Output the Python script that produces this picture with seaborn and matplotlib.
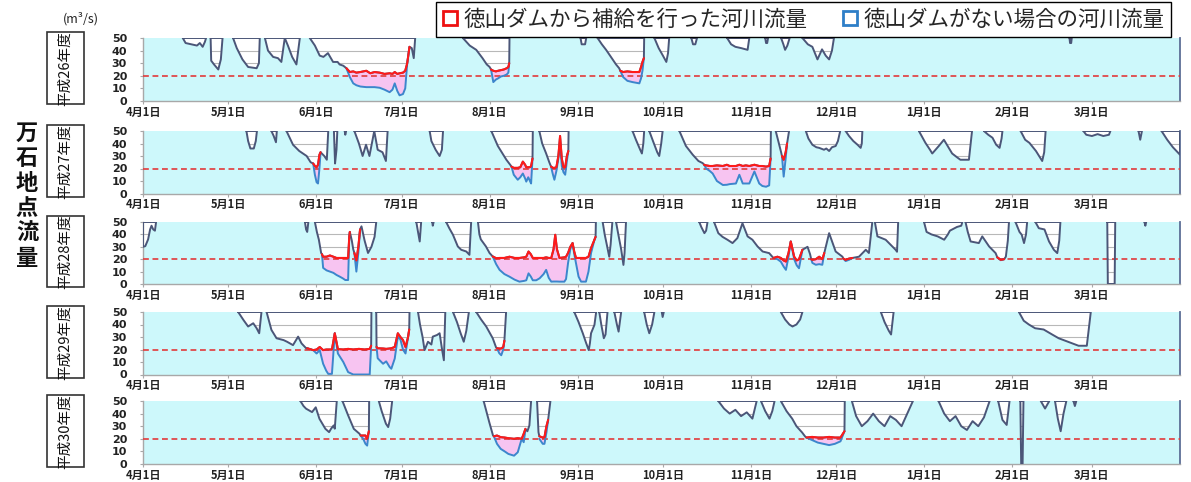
import numpy as np
import matplotlib
matplotlib.use('Agg')
import matplotlib.pyplot as plt
import seaborn as sns
from matplotlib.path import Path
from matplotlib.patches import PathPatch, Rectangle
from matplotlib.lines import Line2D

# ---------------- data (day 0 = 4月1日, values in m3/s, dips below the 50 clip) -------------
month_days = [0, 30, 61, 91, 122, 153, 183, 214, 244, 275, 306, 334]
month_labels = ['4月1日', '5月1日', '6月1日', '7月1日', '8月1日', '9月1日', '10月1日',
                '11月1日', '12月1日', '1月1日', '2月1日', '3月1日']
year_labels = ['平成26年度', '平成27年度', '平成28年度', '平成29年度', '平成30年度']
legend_labels = ['徳山ダムから補給を行った河川流量', '徳山ダムがない場合の河川流量']
target_flow = 20

# 平成26年度: flow with dam (outline), supplement periods (day, with dam, without dam)
dips_h26 = [
    [(14, 50), (15, 46), (17, 45), (19, 44), (20, 46), (21, 43), (21.8, 47), (22.2, 50)],
    [(23.8, 50), (24, 32), (25, 29), (26.5, 25), (27.4, 33), (28, 50)],
    [(31.7, 50), (33, 42), (35, 33), (37, 27), (40, 26), (40.8, 30), (41.1, 50)],
    [(42.9, 50), (44, 40), (45.8, 35), (47.5, 34), (48.7, 31), (49.9, 50), (51, 44), (52.5, 35), (54, 29), (55.2, 50)],
    [(58.7, 50), (60.5, 44), (62.2, 36), (63.5, 35), (65.1, 38), (66.9, 31), (68.5, 31), (69.2, 29), (70.5, 28),
     (71.6, 26), (93.8, 43), (94.6, 42), (95.3, 34), (95.8, 50)],
    [(112.6, 50), (115, 44), (117.3, 40.6), (119.5, 34), (121, 29), (122, 27), (129, 50)],
    [(154, 50), (154.4, 45), (155.6, 45), (156, 50)],
    [(160, 50), (161.5, 45), (163, 40.6), (165, 34), (166.5, 29), (167.6, 26), (176.4, 50)],
    [(180, 50), (181.5, 42), (183, 36), (184.2, 31), (184.8, 38), (185.2, 50)],
    [(193, 50), (193.6, 45), (194.4, 45), (195, 50)],
    [(205.6, 50), (207, 45), (208.5, 43), (210.5, 42), (212.8, 40.6), (213.4, 50)],
    [(219, 50), (219.3, 46), (219.7, 46), (220, 50)],
    [(224.6, 50), (225.4, 45), (226, 40.6), (226.8, 44), (227.6, 50)],
    [(232.1, 50), (234, 45), (235.6, 43), (237.4, 33), (239, 41), (240.3, 36), (241.5, 33), (242.5, 40), (243.2, 50)],
    [(326.1, 50), (326.3, 46), (326.7, 46), (326.9, 50)],
]
sups_h26 = [
    [(71.6, 26, 26), (72.8, 23, 19), (74, 23.5, 14), (75.1, 22.5, 12.5), (76.5, 23, 11.5), (78.6, 24, 11),
     (80, 22, 11), (81.5, 23, 11), (83.3, 22.5, 10.5), (85, 21.5, 9), (86.8, 22, 7), (87.8, 21.5, 9),
     (88.6, 23, 14), (89.5, 21.5, 8), (90.3, 22, 4.5), (91.5, 22.5, 5.5), (92.3, 24, 10), (93, 30, 30),
     (93.8, 43, 43)],
    [(122.5, 25, 25), (123.3, 24, 15), (124.2, 23.5, 17), (125, 24, 18), (126, 24.5, 19.5), (127, 25, 20),
     (128, 26, 21), (128.6, 27, 22.5), (128.9, 30, 30)],
    [(168, 24, 24), (169, 23, 19), (170.5, 23.5, 16), (172.3, 23, 15), (173.5, 23, 14.5), (174.7, 23, 14),
     (175.3, 27, 18), (175.8, 31, 24), (176.3, 34, 34)],
]

# 平成27年度
dips_h27 = [
    [(36.4, 50), (37, 42), (37.8, 36), (39, 36), (39.7, 42), (40.1, 50)],
    [(45.2, 50), (46, 46), (46.8, 41), (47.1, 50)],
    [(50.5, 50), (52.8, 39), (55, 34), (57.6, 30), (59, 25), (59.9, 24), (62.5, 33), (63.8, 30), (64.7, 27), (65.2, 50)],
    [(67.2, 50), (67.6, 24), (68.1, 35), (68.4, 50)],
    [(71, 50), (71.2, 47), (71.5, 50)],
    [(74.4, 50), (76, 40), (77.3, 30), (78.5, 39), (79.7, 30), (81.4, 50), (82.6, 35), (84.3, 33), (85.5, 26), (86.1, 50)],
    [(100.9, 50), (101.5, 42), (103, 35), (104.4, 30), (105.2, 35), (105.6, 50)],
    [(122.6, 50), (124.9, 38), (127.9, 27), (129.4, 22.5), (129.7, 21.5), (137.2, 50)],
    [(139.5, 50), (140.5, 40), (141.9, 32), (143, 25), (143.6, 21.6), (149.8, 50)],
    [(172.3, 50), (173.5, 43), (175, 35), (175.6, 32), (176.1, 40), (176.4, 50)],
    [(178.2, 50), (179.5, 42), (181, 33), (181.7, 30), (182.4, 40), (182.9, 50)],
    [(188.8, 50), (191.1, 38), (193.5, 31), (195.5, 26), (197, 24.3), (197.5, 23), (221, 50)],
    [(222.7, 50), (223.6, 42), (224.6, 33), (224.9, 30), (226.7, 40), (227.4, 50)],
    [(233.3, 50), (234.2, 44), (235.6, 39), (237, 37), (238, 36.5), (239.7, 35), (240.5, 36), (241.5, 34),
     (242.5, 37), (243.8, 38), (244.6, 42), (245.4, 50)],
    [(247.3, 50), (248.5, 46), (250, 42), (251.5, 39), (252.6, 36.5), (253, 40), (253.2, 50)],
    [(273.1, 50), (275.4, 40.5), (277, 35), (277.8, 32), (280.1, 38), (281.9, 43), (284.8, 32), (286.5, 29),
     (287.7, 27), (290.7, 27), (291.8, 50)],
    [(296, 50), (297.5, 47), (299, 44.6), (300.3, 39), (301.5, 36.5), (302.2, 44), (302.5, 50)],
    [(308.9, 50), (310.5, 43), (312, 40.5), (314.3, 34), (316.5, 26), (317.2, 33), (317.7, 50)],
    [(331, 50), (332, 47), (334, 46), (336, 47.5), (338, 46), (340, 47), (340.5, 50)],
    [(350.4, 50), (351, 43), (351.6, 50)],
    [(358.5, 50), (360.5, 43), (362.5, 37), (365, 31), (365, 50)],
]
sups_h27 = [
    [(59.9, 24, 24), (60.5, 22, 15), (61.1, 21, 9), (61.6, 23, 8), (62.1, 31, 20), (62.5, 33, 33)],
    [(129.7, 21.5, 21.5), (130.5, 20.5, 15), (131.9, 20.5, 11), (132.8, 21, 13), (133.7, 25.5, 16), (134.5, 23, 12),
     (134.9, 21, 9.5), (135.6, 21, 13), (136.2, 21, 10), (136.6, 22, 8), (137.1, 28, 28)],
    [(143.6, 21.6, 21.6), (144.3, 20.5, 15), (144.8, 20.5, 11), (145.5, 21, 18), (146.2, 30, 28), (146.8, 46, 40),
     (147.4, 28, 22), (148, 21, 17), (148.6, 21, 15), (149.2, 30, 26), (149.7, 34, 34)],
    [(197.5, 23, 23), (198.2, 22.5, 20), (199.5, 22, 18), (200.5, 22, 16), (202, 22.5, 10), (204.1, 22, 6.8),
     (205.5, 23, 7), (206.5, 22, 7.5), (208.7, 22, 8), (209.9, 23, 15), (211.1, 22, 8), (212.2, 22.5, 8),
     (213.4, 22, 8), (215.2, 23, 17.6), (216.9, 22, 8), (218, 22, 6), (219.3, 21.5, 5.4), (220.4, 22, 6.5),
     (220.9, 28, 28)],
    [(224.9, 30, 30), (225.5, 27, 13.5), (226.2, 33, 28), (226.7, 40, 40)],
]

# 平成28年度
dips_h28 = [
    [(0, 50), (0, 30), (0.8, 30.5), (1.8, 36), (2.5, 44), (3, 47), (3.6, 44), (4.2, 43), (4.6, 50)],
    [(57, 50), (57.4, 44), (57.8, 42), (58.2, 50)],
    [(60.5, 50), (61.2, 42), (61.9, 35.7), (62.7, 25), (63, 24), (72.8, 42), (73.5, 35), (74, 28), (74.4, 25),
     (76.4, 44), (76.9, 46.5), (78, 35), (79.2, 25), (80.4, 30), (81.5, 38), (82.1, 50)],
    [(96.2, 50), (96.8, 42), (97.4, 34.3), (97.9, 50)],
    [(101.8, 50), (102, 47), (102.3, 50)],
    [(106.7, 50), (107.8, 45), (109.1, 39.7), (110.8, 30.3), (112, 27.6), (113.8, 26.2), (114.9, 23.5), (115.5, 50)],
    [(117.9, 50), (118.4, 40), (118.9, 36), (120.7, 30.3), (122, 24.9), (123.1, 22.2), (159.4, 50)],
    [(161.8, 50), (162.5, 40), (163.4, 30), (164.1, 22), (164.6, 32), (165.2, 50)],
    [(166.5, 50), (167.3, 40), (168.3, 28), (169.1, 15.4), (169.5, 25), (170, 50)],
    [(195.8, 50), (196.5, 46), (197.6, 41), (198.2, 43), (198.7, 50)],
    [(201, 50), (202.5, 41), (204, 38), (205.7, 35.7), (207.5, 33), (209.2, 37), (210.4, 45), (211, 49),
     (212.8, 38.4), (214.5, 35.7), (216.3, 30.3), (218.1, 26.2), (220.4, 24.9), (221.5, 22), (221.9, 21),
     (232.1, 27.6), (233.9, 30), (234.8, 24), (235.2, 20), (239.8, 25), (241.5, 41), (243.8, 26.2), (246.2, 22),
     (246.5, 20.5), (249.7, 21), (252, 22), (254.4, 27.6), (255.5, 25), (256.7, 50)],
    [(257.6, 50), (258.5, 38.4), (261.4, 35.7), (264.9, 27.6), (265.4, 26), (265.8, 50)],
    [(274.9, 50), (275.8, 42), (277.5, 40), (279.7, 38.4), (282, 35.7), (283.3, 40), (284, 43), (286.5, 46),
     (288, 47), (288.4, 50)],
    [(289.5, 50), (290.3, 42), (291.3, 34.3), (294.2, 33), (295.4, 38.4), (297.8, 30.3), (300.1, 24.9),
     (300.7, 21.5), (303.1, 20), (303.7, 22), (304.4, 35), (304.8, 50)],
    [(307.1, 50), (308.5, 42), (309.3, 39.7), (310.1, 33), (310.8, 40), (311.2, 50)],
    [(314.1, 50), (315.3, 45), (317.3, 44), (318.9, 34.3), (320.6, 27.6), (321.8, 24.9), (322.5, 35), (322.9, 50)],
    [(339.4, 50), (339.6, 0), (342, 0), (342.2, 50)],
    [(352.5, 50), (352.8, 47), (353.1, 50)],
]
sups_h28 = [
    [(63, 24, 24), (63.4, 22, 13), (64.6, 22, 11), (65.8, 23, 10), (67, 22, 9), (68.1, 21, 7.3), (69.2, 21, 6),
     (70.3, 21, 4.6), (71.2, 21, 3.2), (72.2, 21, 3.2), (72.6, 38, 38), (72.8, 42, 42)],
    [(74.4, 25, 25), (75.1, 19, 10), (75.8, 30, 25), (76.4, 44, 44)],
    [(123.1, 22.2, 22.2), (124.3, 20.8, 16), (125.5, 21, 11.4), (127.2, 21, 8), (129, 22, 5.9), (130.8, 21, 3.5),
     (132.5, 21, 1.9), (134.1, 21.5, 2.5), (134.9, 22, 3), (135.7, 26.2, 8.6), (136.5, 24, 6), (137.2, 21, 3),
     (138.4, 21, 3), (139.6, 21, 4.6), (141, 21, 8), (141.9, 21.5, 11.4), (142.8, 21, 5), (143.7, 21, 1.9),
     (144.5, 28, 2), (145.1, 39.7, 2), (145.7, 28, 2), (146.6, 21, 1.9), (148.3, 21.5, 1.9), (148.9, 22, 4),
     (149.6, 25, 16.8), (150.4, 30, 28), (151.2, 33, 33), (151.8, 26, 24), (152.4, 21, 16.8), (153.3, 21, 6),
     (154.2, 21, 1.9), (155.9, 21, 1.9), (156.8, 22, 10), (157.7, 29, 24.9), (158.9, 35.7, 35.7), (159.3, 38, 38)],
    [(221.9, 21, 21), (223.3, 22, 20), (224.5, 21, 18), (225.5, 19, 14), (226.3, 18.1, 11.4), (227.2, 25, 22),
     (228, 34.3, 34.3), (229.2, 22, 20), (230.1, 19, 15), (230.9, 20, 12.7), (232.1, 27.6, 27.6)],
    [(235.2, 20, 20), (235.6, 19.5, 17), (236.8, 20, 15.5), (238, 22, 16), (239.1, 20, 15.5), (239.8, 25, 25)],
    [(246.5, 20.5, 20.5), (247.3, 19.5, 18.5), (248.5, 20.5, 19.5), (249.7, 21, 21)],
    [(300.7, 21.5, 21.5), (301.9, 19.5, 19.2), (303.1, 20, 20)],
]

# 平成29年度
dips_h29 = [
    [(33.5, 50), (35.3, 43.8), (37, 38.4), (38.8, 41), (40, 37), (40.9, 33), (41.7, 50)],
    [(43.5, 50), (45.2, 35.7), (47, 29), (49.5, 27.5), (50.7, 26.2), (52.8, 23.5), (54.6, 30.3), (55.8, 24.9),
     (57.5, 20.8), (57.8, 21), (80.4, 50)],
    [(82.1, 50), (93.8, 50)],
    [(96.8, 50), (97.5, 40), (98.4, 30), (99.1, 19.5), (100.3, 26.2), (101.5, 24), (102, 30.3), (103.5, 31.6),
     (104.4, 33), (105.3, 19.5), (105.9, 11.4), (106.4, 50)],
    [(109.1, 50), (110.5, 42), (111.8, 33), (112.9, 26.2), (113.8, 35), (114.7, 50)],
    [(117.3, 50), (119, 44), (120.8, 38.4), (123.1, 29), (124.3, 21.5), (124.6, 21), (127.2, 27), (127.8, 50)],
    [(151.8, 50), (153.3, 42), (154.8, 33), (156, 25), (156.9, 19.5), (157.3, 25), (157.7, 33), (158.9, 39.7), (159.5, 50)],
    [(160.6, 50), (161.3, 40), (162.2, 29), (162.8, 32), (163.5, 50)],
    [(165.9, 50), (166.8, 40), (167.4, 34.3), (168.3, 50)],
    [(176.4, 50), (177.3, 40), (178.2, 33), (179.2, 40), (180, 50)],
    [(182.6, 50), (182.9, 46), (183.3, 50)],
    [(224.5, 50), (226, 44), (227.5, 40), (228.6, 38.4), (230, 40), (231.3, 44), (232.1, 50)],
    [(259.7, 50), (261, 42), (262.5, 35), (263.3, 32), (264.2, 50)],
    [(308.3, 50), (310, 43), (311.8, 40), (314, 37), (317, 36), (320, 32), (322.3, 29), (325.8, 26), (329.3, 23),
     (332.2, 23), (333.6, 50)],
]
sups_h29 = [
    [(57.8, 21, 21), (59.9, 19.5, 19.5), (61.1, 20, 16.8), (62.2, 22, 19.5), (63.4, 19.5, 8.6), (64.5, 20, 3),
     (65.2, 20, 0.5), (66.5, 20, 0.5), (67.5, 33, 33), (68.6, 20.3, 16.8), (70.5, 20, 10), (72.2, 20.5, 1.9),
     (74, 20, 0), (76, 20.5, 0), (78, 20, 0), (79.8, 20.5, 0), (80.3, 23, 23)],
    [(82.2, 22, 22), (82.6, 21, 13), (84.5, 20.8, 8.6), (85.6, 20.5, 10.5), (86.8, 20.8, 6), (87.4, 21, 4.6),
     (88.6, 22, 12.7), (89.7, 33, 30.3), (90.6, 30, 28), (91.5, 27.6, 20), (92.4, 22, 16.8), (93.3, 30, 30),
     (93.7, 36, 36)],
    [(124.6, 21, 21), (125.4, 20.8, 17), (126.1, 20.8, 15.4), (126.8, 22, 20), (127.2, 27, 27)],
]

# 平成30年度
dips_h30 = [
    [(55.4, 50), (56.5, 46), (57.4, 43.9), (59.5, 41.2), (60.8, 45), (62.1, 35.9), (64.2, 27.9), (65.5, 25.3),
     (66.2, 28), (67.1, 30.6), (67.5, 28), (68.2, 50)],
    [(70.2, 50), (72.2, 38.6), (74.2, 27.9), (76.2, 24), (76.6, 22.6), (79.6, 50)],
    [(83, 50), (84, 42), (85.5, 32), (86.3, 29.3), (87, 36), (87.7, 50)],
    [(119.9, 50), (121.9, 33), (123.2, 22.6), (123.5, 22), (134.6, 27.9), (135.3, 26), (136, 30.6), (136.6, 50)],
    [(138.7, 50), (139.2, 25.3), (139.5, 22), (142.6, 35), (143.4, 50)],
    [(202.5, 50), (204.5, 44), (206.5, 40), (208.5, 43), (210.5, 38), (212.5, 41), (214.5, 36), (216, 50)],
    [(217.5, 50), (219, 42), (220.5, 36), (221.5, 42), (222.3, 50)],
    [(224.5, 50), (226.5, 42), (228.5, 36), (230, 30), (232, 25), (233, 22), (233.5, 21), (247, 50)],
    [(249.5, 50), (251, 38), (253, 30), (255, 34), (257, 40), (259, 34), (261, 30), (263, 38), (265, 35), (267, 30),
     (269, 40), (271, 50)],
    [(280, 50), (282, 40), (284, 34), (286, 38), (288, 30), (290, 27), (292, 34), (294, 30), (296, 37), (298, 50)],
    [(301, 50), (302.5, 35), (304, 31), (305, 50)],
    [(308.8, 50), (309.1, 0), (309.6, 0), (309.9, 50)],
    [(316, 50), (317.5, 44), (319, 50)],
    [(321, 50), (322, 36), (323, 26), (324, 40), (325, 50)],
    [(327.5, 50), (328, 46), (328.5, 50)],
]
sups_h30 = [
    [(76.6, 22.6, 22.6), (77.5, 22.6, 20), (78.3, 22.6, 16), (78.9, 20, 14.6), (79.5, 26, 26)],
    [(123.5, 22, 22), (124.6, 22.6, 16), (125.9, 21.3, 12), (127.3, 21, 10), (128.6, 20.5, 8), (130.6, 20, 6.6),
     (131.9, 20.5, 9.3), (133.3, 20, 20), (134, 24, 17.3), (134.6, 27.9, 27)],
    [(139.5, 22, 20), (140.7, 21, 16), (141.3, 21.3, 16), (142, 30, 25), (142.6, 35, 35)],
    [(233.5, 21, 21), (235.5, 21.5, 19), (237.5, 21, 17), (239.5, 21, 16), (241.5, 21.5, 15), (243.5, 21, 16),
     (245.5, 21, 18), (246.9, 26, 26)],
]

all_dips = [dips_h26, dips_h27, dips_h28, dips_h29, dips_h30]
all_sups = [sups_h26, sups_h27, sups_h28, sups_h29, sups_h30]

# ---------------- style ----------------
sns.set_theme(style='white')
plt.rcParams['font.family'] = ['Noto Sans CJK JP', 'DejaVu Sans']

W, H = 1191, 482
CYAN = '#cdf8fb'
PINK = '#f7c4f1'
DARK = '#4b5678'
BLUE = '#3c86cc'
RED = '#ff1a1a'
GRID = '#b8b8b8'
AXC = '#a8a8a8'

fig = plt.figure(figsize=(W / 100, H / 100), dpi=100)
panel_px = [(38, 101), (131, 193.5), (222, 284), (312, 374.5), (401, 464)]


def merge(dip, sups):
    pts = list(dip)
    for s in sups:
        d0, d1 = s[0][0], s[-1][0]
        if pts[0][0] <= d0 and d1 <= pts[-1][0]:
            before = [p for p in pts if p[0] < d0]
            after = [p for p in pts if p[0] > d1]
            pts = before + [(d, r) for d, r, b in s] + after
    return pts


for i, (top, bot) in enumerate(panel_px):
    ax = fig.add_axes([143 / W, 1 - bot / H, (1180 - 143) / W, (bot - top) / H])
    ax.set_facecolor(CYAN)
    dips, sups = all_dips[i], all_sups[i]
    polys = [merge(d, sups) for d in dips]
    paths = [Path(np.array(p + [p[0]], dtype=float), closed=True) for p in polys]
    patch = PathPatch(Path.make_compound_path(*paths), facecolor='white', edgecolor='none', zorder=1)
    ax.add_patch(patch)
    gl = ax.hlines([10, 20, 30, 40], 0, 365, colors=GRID, lw=0.8, zorder=1.5)
    gl.set_clip_path(patch)
    for s in sups:
        a = np.array(s, dtype=float)
        ax.fill_between(a[:, 0], a[:, 2], a[:, 1], color=PINK, lw=0, zorder=2)
    ax.axhline(target_flow, color='#e23a3a', lw=1.2, ls=(0, (3.5, 2.2)), zorder=3)
    for s in sups:
        a = np.array(s, dtype=float)
        sns.lineplot(x=a[:, 0], y=a[:, 2], sort=False, estimator=None, color=BLUE, lw=1.4, ax=ax, zorder=4)
    for p in polys:
        a = np.array(p + [p[0]], dtype=float)
        sns.lineplot(x=a[:, 0], y=a[:, 1], sort=False, estimator=None, color=DARK, lw=1.4, ax=ax, zorder=4.5)
    for s in sups:
        a = np.array(s, dtype=float)
        sns.lineplot(x=a[:, 0], y=a[:, 1], sort=False, estimator=None, color=RED, lw=1.5, ax=ax, zorder=5)

    ax.set_xlim(0, 365)
    ax.set_ylim(0, 50)
    ax.set_xticks(month_days)
    ax.set_xticklabels(month_labels)
    ax.set_yticks([0, 10, 20, 30, 40, 50])
    ax.set_xlabel('')
    ax.set_ylabel('')
    ax.tick_params(axis='both', which='both', left=True, bottom=True, direction='out',
                   length=2.5, width=0.8, color=AXC, labelsize=8, labelcolor='#222222')
    ax.tick_params(axis='y', pad=9)
    ax.tick_params(axis='x', pad=1)
    for lab in ax.get_xticklabels():
        lab.set_fontweight('bold')
    for lab in ax.get_yticklabels():
        lab.set_fontweight('bold')
        lab.set_fontfamily('DejaVu Sans')
        lab.set_fontsize(8)
    ax.spines['top'].set_visible(False)
    ax.spines['left'].set_color(AXC)
    ax.spines['bottom'].set_color(AXC)
    ax.spines['right'].set_color('#5d6e96')
    ax.spines['left'].set_linewidth(1.0)
    ax.spines['bottom'].set_linewidth(1.0)
    ax.spines['right'].set_linewidth(1.3)

    # year label box
    fig.add_artist(Rectangle((47 / W, 1 - (bot + 3) / H), 37 / W, (bot - top + 9) / H,
                             transform=fig.transFigure, fill=False, edgecolor='#333333', lw=1.2))
    fig.text(65.5 / W, 1 - ((top + bot) / 2 - 1) / H, year_labels[i], rotation=90,
             ha='center', va='center', fontsize=10.5, color='#111111')

# left title and unit
fig.text(27 / W, 1 - 196 / H, '\n'.join('万石地点流量'), ha='center', va='center',
         fontsize=16, linespacing=1.12, fontweight='bold', color='#111111')
fig.text(81 / W, 1 - 19 / H, '(m³/s)', ha='center', va='center', fontsize=9, color='#222222')

# legend
handles = [Line2D([], [], marker='s', ls='none', markersize=10, markerfacecolor='white',
                  markeredgecolor='#ee1111', markeredgewidth=2),
           Line2D([], [], marker='s', ls='none', markersize=10, markerfacecolor='white',
                  markeredgecolor='#2e7fc8', markeredgewidth=2)]
leg = fig.legend(handles, legend_labels, loc='upper right', bbox_to_anchor=(1171 / W, 1 - 2 / H),
                 borderaxespad=0, ncol=2, fontsize=15.5, frameon=True, fancybox=False, edgecolor='black',
                 handlelength=0.7, handletextpad=0.3, columnspacing=1.6, borderpad=0.3, framealpha=1)
leg.get_frame().set_linewidth(1.0)

fig.savefig('out.png', dpi=100)
